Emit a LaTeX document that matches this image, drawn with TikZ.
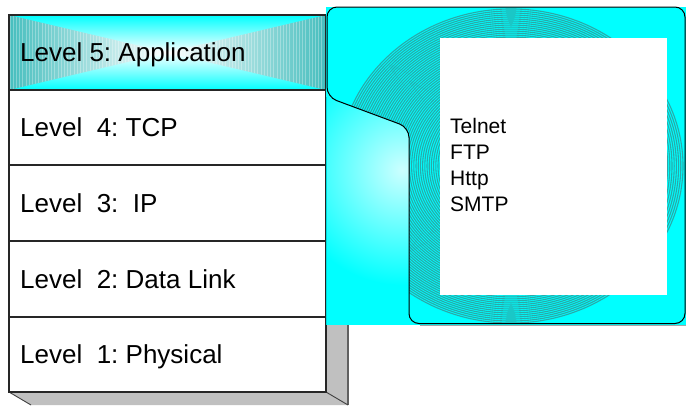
\documentclass[tikz,border=0pt]{standalone}
\usepackage{fontspec}
\setmainfont{Liberation Sans}
\frenchspacing
\definecolor{cy}{RGB}{0,255,255}
\definecolor{shadowgray}{RGB}{192,192,192}
\definecolor{edgegray}{RGB}{96,96,96}
\definecolor{stripe}{RGB}{70,190,190}
\definecolor{ring}{RGB}{40,170,170}
\newcommand\myTab{(327,50) -- (327,7) -- (685,7) -- (685,323.5) -- (409,323.5) -- (409,127.5) -- (327,97) -- cycle}
\begin{document}
\begin{tikzpicture}[x=1pt,y=-1pt,
  lvl/.style={anchor=base west, font=\fontsize{26}{30}\selectfont, inner sep=0pt},
  app/.style={anchor=base west, font=\fontsize{21}{25}\selectfont, inner sep=0pt},
  rowline/.style={draw=black!85, line width=1.2pt}]
\useasboundingbox (0,0) rectangle (686,405);

% 3D shadow of the stack
\fill[shadowgray] (326,15) -- (348,28) -- (348,405) -- (31,405) -- (9,392) -- (326,392) -- cycle;
\draw[edgegray, line width=1.2pt] (348,28) -- (348,405);
\draw[black!75, line width=0.9pt] (9,392) -- (31,405);
\draw[black!75, line width=0.9pt] (326,392) -- (348,405);

% level 5 row shading
\shade[top color=cy, bottom color=cy, middle color=white] (9,15) rectangle (326,90);
\shade[left color=stripe, right color=white] (9,15) -- (167.5,52.5) -- (9,90) -- cycle;
\shade[left color=white, right color=stripe] (326,15) -- (167.5,52.5) -- (326,90) -- cycle;
\begin{scope}
  \clip (9,15) -- (167.5,52.5) -- (9,90) -- cycle;
  \foreach \x in {10,13.2,...,168} \draw[white, opacity=0.3, line width=1pt] (\x,15) -- (\x,90);
\end{scope}
\begin{scope}
  \clip (326,15) -- (167.5,52.5) -- (326,90) -- cycle;
  \foreach \x in {325,321.8,...,166} \draw[white, opacity=0.3, line width=1pt] (\x,15) -- (\x,90);
\end{scope}

% rows
\fill[white] (9,90) rectangle (326,392);
\draw[rowline] (9,15) rectangle (326,392);
\foreach \yy in {90,165,241,317} \draw[rowline] (9,\yy) -- (326,\yy);

\node[lvl] (l5) at (20,61.5) {Level 5: Application};
\node[lvl] (l4) at (20,136.5) {Level\ \ 4: TCP};
\node[lvl] (l3) at (20,212) {Level\ \ 3:\ \ IP};
\node[lvl] (l2) at (20,288) {Level\ \ 2: Data Link};
\node[lvl] (l1) at (20,363.5) {Level\ \ 1: Physical};

% cyan panel
\fill[cy] (326,7) rectangle (686,325);
\begin{scope}
  \clip (326,7) rectangle (409,325);
  \shade[inner color=cy!20!white, outer color=cy] (402,170) circle (115);
\end{scope}
\draw[cy!70!teal, line width=0.8pt] (326.5,97) -- (326.5,325);
\fill[cy, rounded corners=10pt] \myTab;
\begin{scope}
  \clip[rounded corners=10pt] \myTab;
  \foreach \k in {0,...,76}
    \draw[ring, line width=1.1pt] (511,166) ellipse ({172-2.2*\k} and {0.913*(172-2.2*\k)});
\end{scope}
\draw[black, line width=1pt, rounded corners=10pt] \myTab;
\draw[black!35, line width=0.8pt] (420,325) -- (686,325);

% white box with protocols
\node[fill=white, minimum width=227pt, minimum height=257pt, anchor=north west, inner sep=0pt] (box) at (440,38) {};
\node[app] (t1) at (450,133.3) {Telnet};
\node[app] (t2) at (450,159.3) {FTP};
\node[app] (t3) at (450,185.3) {Http};
\node[app] (t4) at (450,211.3) {SMTP};
\end{tikzpicture}
\end{document}
